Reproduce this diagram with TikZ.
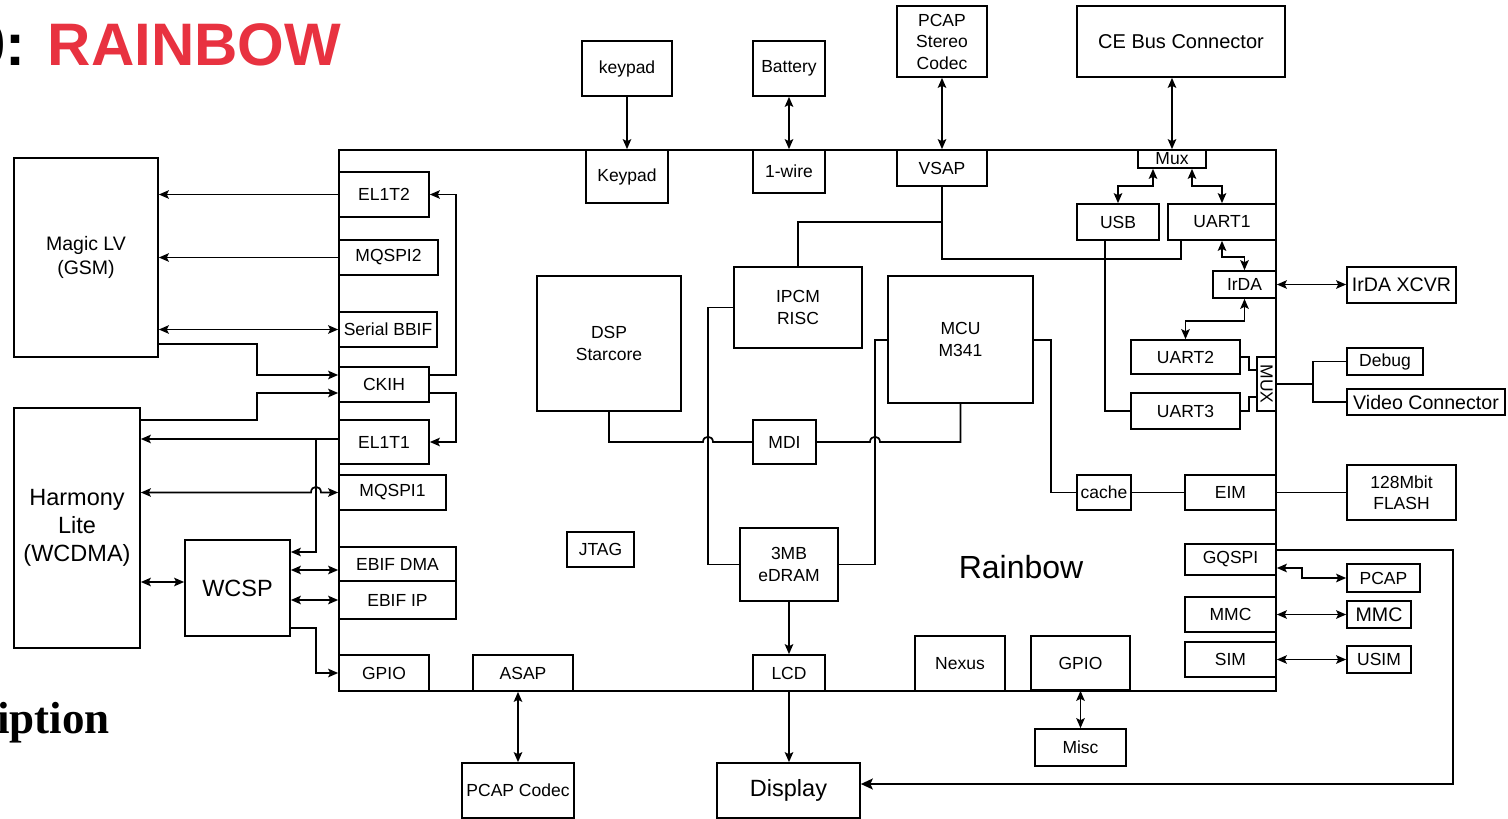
\documentclass[tikz,border=0pt]{standalone}
\usepackage{fontspec}
\setmainfont{Liberation Sans}
\newfontfamily\titleserif{Liberation Serif}
\usetikzlibrary{arrows.meta}
\definecolor{rbred}{RGB}{232,50,64}
\tikzset{
 blk/.style={draw, line width=1.7pt, inner sep=0pt, align=center, font=\fontsize{17.5}{21.5}\selectfont},
 tipA/.tip={Stealth[length=10pt,width=8.5pt,inset=2pt]},
 tipB/.tip={Stealth[length=12pt,width=11pt,inset=2.5pt]},
 arr/.style={line width=1.7pt, -tipA},
 arr2/.style={line width=1.7pt, tipA-tipA},
 arrbig/.style={line width=1.7pt, -tipB},
 wire/.style={line width=1.7pt},
 big/.style={font=\fontsize{23.5}{28}\selectfont},
 mid/.style={font=\fontsize{19.6}{24}\selectfont},
}
\newcommand\bx[7][]{\node[blk,minimum width={(#5-#3)*1pt},minimum height={(#6-#4)*1pt},#1] (#2) at ({(#3+#5)/2},{(#4+#6)/2}) {#7};}
\begin{document}
\begin{tikzpicture}[x=1pt,y=-1pt]
\useasboundingbox (0,0) rectangle (1508,819);
% titles
\node[anchor=base west, font=\fontsize{60}{72}\selectfont\bfseries, inner sep=0pt] (title) at (-28,65) {0: \textcolor{rbred}{RAINBOW}};
\node[anchor=base west, font=\titleserif\fontsize{45}{52}\selectfont\bfseries, inner sep=0pt] (desc) at (-3,733) {iption};
% main chip
\bx{rainbow}{339}{150}{1276}{691}{}
\node[font=\fontsize{32}{38}\selectfont] (rlabel) at (1021,567) {Rainbow};
% left externals
\bx[font=\fontsize{19.5}{24}\selectfont]{magic}{14}{158}{158}{357}{Magic LV\\(GSM)}
\bx[big]{harm}{14}{408}{140}{648}{Harmony\\Lite\\(WCDMA)}
\bx[big]{wcsp}{185}{540}{290}{636}{WCSP}
% left internals
\bx{el1t2}{339}{172}{429}{217}{EL1T2}
\bx{mqspi2}{339}{240}{438}{275}{MQSPI2}
\bx{sbbif}{339}{312}{437}{347}{Serial BBIF}
\bx{ckih}{339}{367}{429}{402}{CKIH}
\bx{el1t1}{339}{420}{429}{464}{EL1T1}
\bx{mqspi1}{339}{475}{446}{510}{MQSPI1}
\bx{ebifdma}{339}{547}{456}{581}{EBIF DMA}
\bx{ebifip}{339}{581}{456}{619}{EBIF IP}
\bx{gpioL}{339}{655}{429}{691}{GPIO}
% bottom
\bx{asap}{473}{655}{573}{691}{ASAP}
\bx{lcd}{753}{655}{825}{691}{LCD}
\bx{nexus}{915}{636}{1005}{691}{Nexus}
\bx{gpioR}{1031}{636}{1130}{690}{GPIO}
\bx{misc}{1035}{729}{1126}{766}{Misc}
\bx{pcapc}{462}{763}{574}{818}{PCAP Codec}
\bx[big]{display}{717}{763}{860}{818}{Display}
% top
\bx{keypadx}{582}{41}{672}{96}{keypad}
\bx{battery}{753}{41}{825}{96}{Battery}
\bx{pcapsc}{897}{6}{987}{77}{PCAP\\Stereo\\Codec}
\bx[font=\fontsize{20}{24}\selectfont]{cebus}{1077}{6}{1285}{77}{CE Bus Connector}
\bx{keypad}{586}{150}{668}{203}{Keypad}
\bx{wire}{753}{150}{825}{193}{1-wire}
\bx{vsap}{897}{150}{987}{186}{VSAP}
\bx{mux}{1138}{150}{1206}{168}{Mux}
% right internals
\bx{usb}{1077}{204}{1159}{240}{USB}
\bx{uart1}{1168}{204}{1276}{240}{UART1}
\bx{irda}{1213}{271}{1276}{298}{IrDA}
\bx{uart2}{1131}{340}{1240}{374}{UART2}
\bx{uart3}{1131}{393}{1240}{429}{UART3}
\bx{muxv}{1257}{357}{1276}{411}{}
\node[rotate=-90, inner sep=0pt, font=\fontsize{17.5}{21.5}\selectfont] (muxvlabel) at (muxv.center) {MUX};
\bx{cache}{1077}{475}{1131}{510}{cache}
\bx{eim}{1185}{475}{1276}{510}{EIM}
\bx{gqspi}{1185}{544}{1276}{575}{GQSPI}
\bx{mmc}{1185}{597}{1276}{632}{MMC}
\bx{sim}{1185}{642}{1276}{677}{SIM}
% core
\bx{dsp}{537}{276}{681}{411}{DSP\\Starcore}
\bx{ipcm}{734}{267}{862}{348}{IPCM\\RISC}
\bx{mcu}{888}{276}{1033}{403}{MCU\\M341}
\bx{mdi}{753}{420}{816}{464}{MDI}
\bx{jtag}{567}{532}{634}{567}{JTAG}
\bx{edram}{740}{528}{838}{601}{3MB\\eDRAM}
% right externals
\bx[mid]{irdax}{1347}{267}{1456}{303}{IrDA XCVR}
\bx{debug}{1347}{348}{1423}{375}{Debug}
\bx[mid]{video}{1347}{389}{1505}{415}{Video Connector}
\bx{flash}{1347}{465}{1456}{520}{128Mbit\\FLASH}
\bx{pcap}{1347}{564}{1420}{592}{PCAP}
\bx[mid]{mmcx}{1347}{601}{1411}{628}{MMC}
\bx{usim}{1347}{646}{1411}{673}{USIM}
% ---- left connectors
\draw[arr] (el1t2.west) -- (magic.east |- el1t2.west);
\draw[arr] (mqspi2.west) -- (magic.east |- mqspi2.west);
\draw[arr2] (magic.east |- sbbif.west) -- (sbbif.west);
\draw[arr] (magic.east |- 0,344) -- (257,344) -- (257,375) -- (ckih.west |- 0,375);
\draw[arr] (harm.east |- 0,420) -- (257,420) -- (257,393) -- (ckih.west |- 0,393);
\draw[arr] (ckih.east |- 0,375) -- (456,375) -- (456,194.5) -- (el1t2.east);
\draw[arr] (ckih.east |- 0,393) -- (456,393) -- (456,442) -- (el1t1.east);
\draw[arr] (el1t1.west |- 0,439) -- (harm.east |- 0,439);
\draw[arr] (316,439) -- (316,552) -- (wcsp.east |- 0,552);
\draw[arr2] (harm.east |- mqspi1.west) -- (311,492.5) .. controls (311,485) and (321,485) .. (321,492.5) -- (mqspi1.west);
\draw[arr2] (harm.east |- 0,582) -- (wcsp.west |- 0,582);
\draw[arr2] (wcsp.east |- 0,570) -- (ebifdma.west |- 0,570);
\draw[arr2] (wcsp.east |- ebifip.west) -- (ebifip.west);
\draw[arr] (wcsp.east |- 0,628) -- (316,628) -- (316,673) -- (gpioL.west);
% ---- top connectors
\draw[arr] (keypadx.south) -- (keypad.north);
\draw[arr2] (battery.south) -- (wire.north);
\draw[arr2] (pcapsc.south) -- (vsap.north);
\draw[arr2] (cebus.south -| mux.north) -- (mux.north);
\draw[arr2] (mux.south -| 1153,0) -- (1153,186) -- (1118,186) -- (usb.north);
\draw[arr2] (mux.south -| 1192,0) -- (1192,186) -- (1222,186) -- (uart1.north);
\draw[wire] (vsap.south) -- (942,259) -- (1181,259) -- (uart1.south -| 1181,0);
\draw[wire] (942,222) -- (798,222) -- (ipcm.north);
\draw[wire] (usb.south -| 1105,0) -- (1105,411) -- (uart3.west);
\draw[arr2] (uart1.south) -- (1222,257) -- (1244.5,257) -- (irda.north);
\draw[arr2] (irda.south) -- (1244.5,321) -- (1185.5,321) -- (uart2.north);
\draw[arr2] (irda.east) -- (irdax.west |- irda.east);
\draw[wire] (uart2.east) -- (1249,357) -- (1249,370) -- (muxv.west |- 0,370);
\draw[wire] (uart3.east) -- (1249,411) -- (1249,397) -- (muxv.west |- 0,397);
\draw[wire] (muxv.east) -- (1313,384);
\draw[wire] (debug.west) -- (1313,361.5) -- (1313,402) -- (video.west);
% ---- core connectors
\draw[wire] (dsp.south) -- (609,442) -- (703,442) .. controls (703,435) and (713,435) .. (713,442) -- (mdi.west);
\draw[wire] (mdi.east) -- (870,442) .. controls (870,435) and (880,435) .. (880,442) -- (960.5,442) -- (mcu.south);
\draw[wire] (ipcm.west) -- (708,307.5) -- (708,564.5) -- (edram.west);
\draw[wire] (mcu.west |- 0,340) -- (875,340) -- (875,564.5) -- (edram.east);
\draw[arr] (edram.south) -- (lcd.north);
\draw[arr] (lcd.south) -- (lcd.south |- display.north);
\draw[arr2] (asap.south -| pcapc.north) -- (pcapc.north);
\draw[arr2] (gpioR.south) -- (misc.north);
\draw[wire] (mcu.east |- 0,340) -- (1051,340) -- (1051,492.5) -- (cache.west);
\draw[wire] (cache.east) -- (eim.west);
\draw[wire] (eim.east) -- (flash.west |- eim.east);
\draw[arrbig] (gqspi.east |- 0,550) -- (1453,550) -- (1453,784) -- (display.east |- 0,784);
\draw[arr2] (gqspi.east |- 0,568) -- (1302,568) -- (1302,578) -- (pcap.west);
\draw[arr2] (mmc.east) -- (mmcx.west |- mmc.east);
\draw[arr2] (sim.east) -- (usim.west |- sim.east);
\end{tikzpicture}
\end{document}
